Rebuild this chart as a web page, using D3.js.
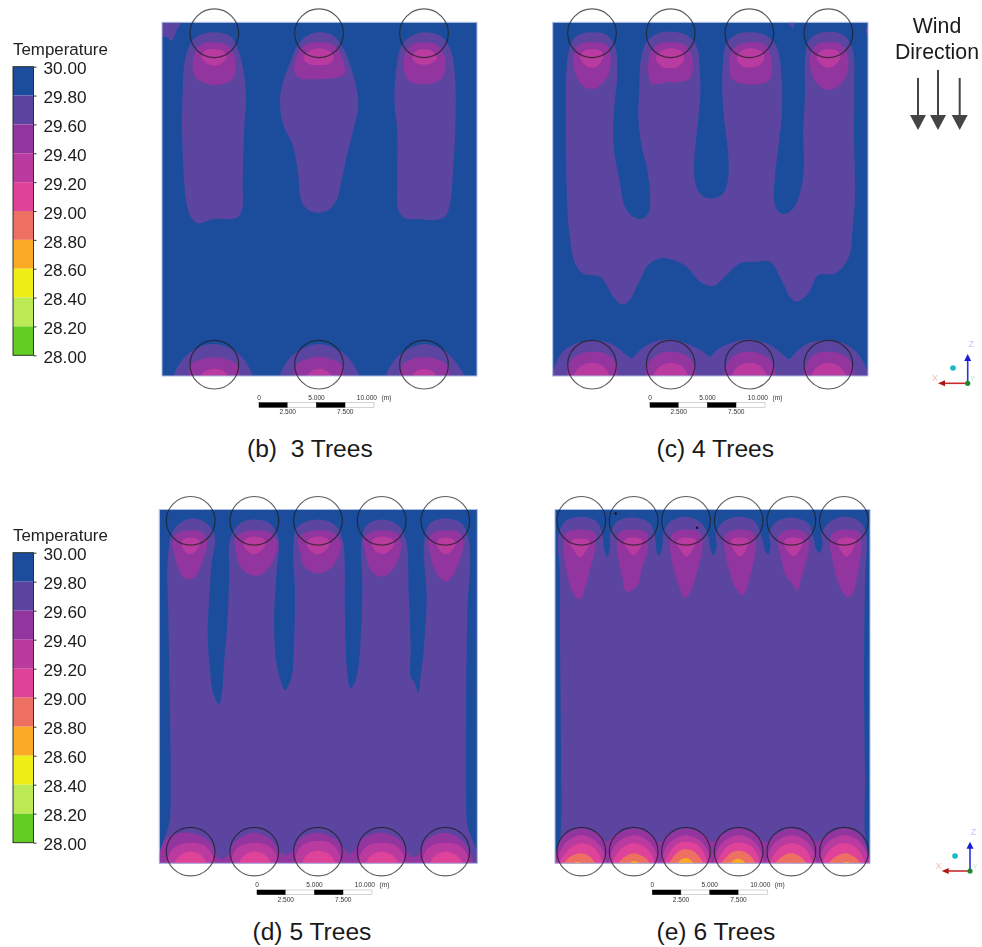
<!DOCTYPE html>
<html><head><meta charset="utf-8">
<script src="https://cdn.jsdelivr.net/npm/d3@7"></script>
<style>html,body{margin:0;padding:0;background:#fff}svg{display:block}text{font-family:"Liberation Sans",Arial,sans-serif}</style>
</head><body><svg id="c" width="982" height="947"></svg>
<script>
// ---------- colour key ----------
const tempTicks = [30,29.8,29.6,29.4,29.2,29,28.8,28.6,28.4,28.2,28];
const bandEdges = [28.2,28.4,28.6,28.8,29,29.2,29.4,29.6,29.8];
const bandColors = ["#63cd20","#bbea55","#efee14","#fbaa26","#ee6f63","#df4299","#b93a9f","#93369f","#5b45a0","#1c4e9c"];
const scaleBarTicks = [0,2.5,5,7.5,10];

// ---------- tree positions (model-grid units) ----------
const treesB = [643,957,1272];
const treesC = [276,512,748,985];
const treesD = [572,763,954,1145,1336];
const treesE = [244,401,558,716,874,1032];

// ---------- contour bands, panel (b) ----------
const b297 = [
 [[486,60],[545,60],[530,90],[515,122],[500,112],[486,110],[480,90]],
 [[643,97],[690,108],[715,150],[730,210],[738,290],[733,380],[730,470],[728,560],[728,620],[715,650],[690,657],[640,657],[595,670],[572,650],[558,600],[550,500],[546,380],[548,280],[555,180],[575,125],[605,103]],
 [[957,97],[1000,107],[1030,145],[1055,210],[1072,280],[1074,330],[1060,390],[1040,470],[1025,540],[1010,600],[985,630],[955,638],[925,630],[905,605],[895,530],[880,440],[850,375],[840,310],[848,250],[870,190],[890,140],[920,108]],
 [[1272,97],[1320,107],[1350,145],[1365,230],[1366,380],[1360,500],[1350,610],[1335,650],[1300,660],[1260,657],[1215,655],[1195,630],[1192,550],[1192,400],[1183,295],[1190,200],[1205,135],[1240,105]],
 [[522,1140],[540,1090],[580,1050],[643,1032],[700,1050],[740,1090],[755,1140]],
 [[843,1140],[860,1085],[900,1050],[957,1032],[1015,1050],[1055,1085],[1075,1140]],
 [[1160,1140],[1180,1085],[1220,1050],[1272,1032],[1330,1050],[1370,1090],[1392,1140]]
];
const b295 = [
 [[643,127],[680,135],[700,160],[707,200],[695,240],[640,255],[590,235],[578,195],[590,145],[610,130]],
 [[957,127],[1000,135],[1025,170],[1033,222],[1000,235],[957,237],[900,235],[883,215],[890,170],[915,135]],
 [[1272,127],[1310,135],[1335,170],[1335,215],[1318,242],[1272,252],[1230,245],[1213,215],[1213,170],[1235,135]],
 [[572,1140],[572,1095],[605,1078],[643,1072],[680,1078],[712,1095],[715,1140]],
 [[885,1140],[890,1095],[920,1078],[957,1070],[995,1078],[1025,1095],[1030,1140]],
 [[1203,1140],[1207,1095],[1235,1078],[1272,1072],[1310,1078],[1340,1095],[1345,1140]]
];
const b293 = [
 [[643,147],[672,155],[680,170],[665,190],[643,197],[620,190],[605,170],[613,153]],
 [[957,145],[990,155],[1002,175],[985,192],[957,195],[925,192],[910,175],[925,155]],
 [[1272,147],[1300,155],[1310,175],[1295,190],[1272,195],[1250,190],[1237,175],[1245,155]],
 [[598,1140],[606,1122],[622,1110],[643,1106],[665,1110],[680,1122],[690,1140]],
 [[918,1140],[926,1122],[940,1110],[957,1106],[975,1110],[990,1122],[1000,1140]],
 [[1235,1140],[1240,1122],[1255,1110],[1272,1106],[1290,1110],[1305,1122],[1312,1140]]
];

// ---------- contour bands, panel (c) ----------
const c297 = [
 [[276,97],[320,105],[345,140],[352,220],[345,300],[340,380],[342,450],[358,540],[375,620],[400,650],[425,657],[445,640],[450,590],[440,500],[425,440],[415,350],[418,270],[422,180],[440,125],[470,102],[512,95],[560,105],[590,140],[600,220],[600,300],[590,400],[582,510],[590,565],[610,590],[635,595],[665,585],[682,550],[685,470],[675,380],[668,300],[668,200],[680,130],[710,103],[748,97],[795,105],[830,140],[845,240],[845,350],[835,440],[825,530],[822,600],[835,635],[855,642],[880,625],[900,580],[912,500],[910,400],[915,280],[915,180],[925,125],[950,103],[985,95],[1030,105],[1058,150],[1063,250],[1062,400],[1065,590],[1058,680],[1050,760],[1030,800],[1000,822],[955,825],[925,880],[890,905],[870,890],[840,830],[810,785],[770,785],[720,790],[680,825],[640,858],[600,845],[560,800],[520,780],[480,775],[445,795],[415,850],[385,905],[365,913],[340,890],[300,830],[250,822],[225,790],[208,700],[200,560],[198,350],[200,200],[215,125],[240,103]],
 [[160,1140],[170,1085],[200,1045],[276,1020],[340,1035],[378,1065],[395,1075],[410,1060],[450,1030],[512,1018],[570,1035],[610,1055],[630,1070],[650,1050],[690,1030],[748,1018],[810,1035],[850,1065],[868,1077],[885,1060],[925,1030],[985,1020],[1050,1040],[1090,1085],[1102,1140]],
 [[865,60],[880,60],[880,84],[870,76]],
 [[1110,72],[1097,92],[1110,112]]
];
const c295 = [
 [[276,127],[320,135],[332,175],[325,225],[295,260],[275,267],[250,258],[228,225],[220,180],[235,135]],
 [[512,127],[555,135],[577,175],[570,235],[530,247],[505,247],[455,250],[445,215],[448,170],[470,135]],
 [[748,127],[795,135],[815,180],[808,240],[780,252],[720,250],[695,235],[688,190],[700,145]],
 [[985,127],[1025,135],[1045,180],[1035,235],[1010,262],[985,270],[955,255],[935,220],[930,170],[948,135]],
 [[205,1140],[210,1085],[240,1062],[276,1055],[320,1062],[345,1085],[350,1140]],
 [[440,1140],[445,1090],[475,1062],[512,1055],[555,1065],[580,1090],[585,1140]],
 [[677,1140],[682,1090],[710,1062],[748,1055],[790,1065],[818,1090],[822,1140]],
 [[915,1140],[920,1090],[945,1062],[985,1055],[1030,1065],[1055,1090],[1058,1140]]
];
const c293 = [
 [[276,147],[305,155],[310,170],[295,195],[276,203],[255,195],[240,170],[248,155]],
 [[512,145],[545,155],[553,175],[535,200],[512,205],[485,200],[468,175],[480,155]],
 [[748,145],[785,155],[793,175],[775,198],[748,203],[725,198],[710,175],[720,155]],
 [[985,147],[1015,155],[1022,170],[1005,195],[985,203],[965,195],[950,170],[960,155]],
 [[222,1140],[230,1110],[250,1094],[276,1088],[302,1094],[320,1110],[330,1140]],
 [[460,1140],[468,1110],[488,1094],[512,1088],[538,1094],[556,1110],[565,1140]],
 [[697,1140],[704,1110],[724,1094],[748,1088],[774,1094],[792,1110],[800,1140]],
 [[935,1140],[942,1110],[962,1094],[985,1088],[1010,1094],[1030,1110],[1038,1140]]
];

// ---------- contour bands, panel (d) ----------
const d297 = [
 [[572,115],[620,130],[645,170],[635,250],[628,350],[623,460],[630,570],[640,640],[657,673],[667,630],[672,550],[682,430],[688,280],[690,180],[720,130],[763,118],[810,130],[835,175],[828,300],[822,430],[830,550],[845,610],[855,630],[875,590],[882,500],[885,330],[880,200],[893,140],[954,118],[1005,135],[1028,180],[1035,400],[1040,560],[1052,625],[1070,590],[1082,480],[1087,320],[1085,180],[1100,135],[1145,118],[1195,135],[1218,180],[1226,340],[1232,500],[1232,590],[1245,610],[1255,640],[1262,590],[1272,500],[1280,350],[1272,190],[1290,130],[1336,115],[1385,130],[1408,190],[1402,400],[1398,700],[1398,950],[1403,1040],[1420,1085],[1436,1130],[1436,1160],[474,1160],[474,1130],[490,1085],[508,1030],[512,900],[510,700],[505,400],[503,250],[520,150]]
];
const d295 = [
 [[572,150],[610,158],[622,190],[605,250],[585,290],[565,298],[545,285],[525,230],[518,180],[535,158]],
 [[763,150],[810,158],[832,190],[815,250],[785,283],[755,285],[725,265],[708,210],[705,175],[725,158]],
 [[954,150],[1000,158],[1023,190],[1005,250],[975,275],[945,278],[915,260],[900,210],[895,175],[915,158]],
 [[1145,150],[1190,158],[1203,190],[1190,250],[1160,285],[1135,288],[1110,265],[1095,210],[1090,175],[1110,158]],
 [[1336,150],[1380,158],[1390,190],[1375,250],[1350,298],[1335,303],[1310,280],[1290,220],[1285,180],[1300,158]],
 [[478,1160],[485,1100],[510,1070],[572,1058],[630,1085],[650,1125],[665,1137],[685,1125],[700,1090],[763,1058],[815,1080],[840,1115],[858,1125],[880,1110],[900,1075],[954,1058],[1010,1080],[1035,1110],[1048,1122],[1065,1110],[1090,1075],[1145,1058],[1200,1080],[1225,1120],[1240,1132],[1258,1120],[1280,1080],[1336,1058],[1390,1085],[1415,1130],[1420,1160]]
];
const d293 = [
 [[572,172],[595,178],[600,190],[585,215],[572,222],[555,215],[545,190],[550,178]],
 [[763,170],[790,176],[798,190],[780,215],[763,222],[745,215],[730,190],[738,176]],
 [[954,170],[982,176],[990,190],[972,215],[954,222],[935,215],[920,190],[928,176]],
 [[1148,170],[1175,176],[1183,190],[1165,215],[1148,222],[1130,215],[1115,190],[1122,176]],
 [[1338,172],[1362,178],[1368,190],[1352,215],[1338,222],[1322,215],[1310,190],[1316,178]],
 [[505,1160],[512,1115],[535,1095],[572,1088],[610,1095],[635,1120],[640,1160]],
 [[696,1160],[703,1115],[726,1095],[763,1088],[801,1095],[826,1120],[831,1160]],
 [[887,1160],[894,1112],[917,1090],[954,1082],[992,1090],[1017,1120],[1022,1160]],
 [[1078,1160],[1085,1115],[1108,1095],[1145,1088],[1183,1095],[1208,1120],[1213,1160]],
 [[1269,1160],[1276,1115],[1299,1095],[1336,1088],[1374,1095],[1399,1120],[1404,1160]]
];
const d291 = [
 [[525,1160],[532,1135],[550,1120],[572,1115],[595,1120],[612,1135],[620,1160]],
 [[718,1160],[725,1135],[743,1120],[765,1115],[788,1120],[805,1135],[812,1160]],
 [[908,1160],[915,1132],[933,1117],[954,1112],[977,1117],[997,1132],[1005,1160]],
 [[1098,1160],[1105,1135],[1123,1120],[1145,1115],[1168,1120],[1187,1135],[1195,1160]],
 [[1292,1160],[1298,1135],[1316,1120],[1338,1115],[1360,1120],[1378,1135],[1385,1160]]
];

// ---------- contour bands, panel (e) ----------
const e297 = [
 [[244,110],[290,125],[308,165],[312,205],[322,228],[330,200],[330,165],[350,125],[401,112],[450,130],[465,170],[470,215],[477,228],[487,200],[490,160],[510,125],[558,110],[605,130],[625,170],[632,210],[640,225],[650,200],[648,160],[670,125],[716,110],[765,125],[785,170],[795,210],[805,222],[812,195],[808,160],[830,125],[874,112],[925,130],[940,170],[950,210],[960,218],[968,190],[965,160],[990,125],[1032,110],[1080,125],[1098,160],[1095,300],[1092,600],[1095,900],[1095,1060],[1108,1130],[1115,1160],[160,1160],[170,1130],[182,1060],[183,800],[180,450],[180,280],[175,170],[195,125]]
];
const e295 = [
 [[244,148],[285,158],[288,190],[270,270],[245,350],[235,358],[215,330],[200,270],[190,190],[198,158]],
 [[401,148],[440,158],[445,190],[425,270],[410,320],[380,335],[365,280],[350,190],[358,158]],
 [[558,148],[600,158],[608,190],[590,280],[565,345],[553,352],[535,310],[515,240],[510,180],[520,158]],
 [[716,148],[760,158],[768,190],[750,290],[730,345],[710,330],[685,260],[672,180],[680,158]],
 [[874,148],[915,158],[927,190],[905,290],[890,333],[880,315],[860,290],[838,210],[832,175],[845,158]],
 [[1032,148],[1080,158],[1085,190],[1075,270],[1055,345],[1040,350],[1020,320],[1000,250],[990,180],[1000,158]],
 [[165,1165],[170,1110],[195,1065],[244,1045],[295,1062],[322,1085],[345,1065],[401,1045],[450,1062],[478,1087],[505,1065],[558,1045],[610,1062],[637,1085],[665,1065],[716,1045],[765,1062],[795,1087],[825,1065],[874,1045],[925,1062],[952,1085],[980,1065],[1032,1045],[1080,1065],[1100,1110],[1106,1165]]
];
const e293 = [
 [[238,175],[268,182],[262,205],[240,232],[225,215],[210,188],[218,178]],
 [[400,172],[428,180],[422,200],[402,225],[385,210],[372,186],[380,176]],
 [[558,172],[588,180],[580,205],[560,230],[545,215],[530,186],[538,176]],
 [[718,172],[748,180],[740,205],[720,230],[705,215],[692,186],[698,176]],
 [[880,172],[908,180],[902,205],[882,228],[865,215],[852,186],[860,176]],
 [[1040,172],[1068,180],[1060,205],[1040,230],[1025,215],[1012,186],[1020,176]],
 [[172,1160],[185,1105],[210,1078],[244,1066],[280,1078],[308,1110],[315,1160]],
 [[330,1160],[340,1105],[365,1078],[401,1066],[438,1078],[465,1110],[472,1160]],
 [[487,1160],[497,1105],[522,1078],[558,1066],[595,1078],[622,1110],[630,1160]],
 [[645,1160],[655,1105],[680,1078],[716,1066],[753,1078],[780,1110],[788,1160]],
 [[803,1160],[813,1105],[838,1078],[874,1066],[911,1078],[938,1110],[946,1160]],
 [[961,1160],[971,1105],[996,1078],[1032,1066],[1069,1078],[1096,1110],[1104,1160]]
];
const e291 = [
 [[178,1160],[200,1115],[225,1095],[244,1090],[275,1098],[298,1125],[305,1160]],
 [[338,1160],[355,1115],[380,1095],[401,1090],[430,1098],[455,1125],[462,1160]],
 [[495,1160],[512,1112],[535,1090],[558,1085],[590,1092],[612,1120],[620,1160]],
 [[652,1160],[670,1112],[695,1092],[716,1087],[748,1095],[770,1120],[778,1160]],
 [[810,1160],[828,1115],[852,1095],[874,1090],[905,1098],[928,1125],[935,1160]],
 [[968,1160],[985,1115],[1010,1095],[1032,1090],[1062,1098],[1085,1125],[1092,1160]]
];
const e289 = [
 [[192,1155],[205,1135],[222,1124],[240,1120],[258,1123],[275,1135],[285,1155]],
 [[355,1155],[368,1135],[385,1124],[401,1120],[418,1124],[438,1135],[448,1155]],
 [[508,1155],[522,1128],[540,1112],[558,1108],[578,1112],[598,1130],[608,1155]],
 [[665,1155],[680,1130],[698,1116],[716,1112],[735,1116],[755,1132],[765,1155]],
 [[825,1155],[840,1135],[856,1124],[872,1120],[890,1124],[908,1136],[920,1155]],
 [[985,1155],[1000,1135],[1018,1124],[1035,1120],[1052,1124],[1070,1136],[1080,1155]]
];
const e287 = [
 [[215,1160],[222,1150],[232,1146],[242,1150],[250,1160]],
 [[385,1160],[392,1147],[403,1142],[414,1147],[422,1160]],
 [[530,1160],[542,1140],[558,1134],[572,1140],[585,1160]],
 [[690,1160],[700,1141],[714,1136],[728,1141],[738,1160]],
 [[858,1160],[863,1151],[870,1148],[878,1151],[885,1160]],
 [[1022,1160],[1030,1150],[1040,1146],[1050,1150],[1058,1160]]
];
const eSpecks = [[347,100],[591,143]];

// ---------- captions ----------
const captions = ["(b)  3 Trees","(c) 4 Trees","(d) 5 Trees","(e) 6 Trees"];
const windLabel = ["Wind","Direction"];
const windArrowTops = [78,70,78];
const windArrowX = [918,938,959.7];

const panels = [
 {id:"b",cap:captions[0],trees:treesB,dx:[486,1431],dy:[67,1128],rows:[100,1094],
  bands:[[29.7,b297],[29.5,b295],[29.3,b293]],rx:[162,477],ry:[22.3,376],capX:247,capY:457,bar:259,barY:402.7},
 {id:"c",cap:captions[1],trees:treesC,dx:[158,1104],dy:[67,1128],rows:[100,1094],
  bands:[[29.7,c297],[29.5,c295],[29.3,c293]],rx:[552.7,868],ry:[22.3,376],capX:656.5,capY:457,bar:650,barY:402.7},
 {id:"d",cap:captions[2],trees:treesD,dx:[478,1432],dy:[88,1150],rows:[122,1115],
  bands:[[29.7,d297],[29.5,d295],[29.3,d293],[29.1,d291]],rx:[159.3,477.3],ry:[509.5,863.3],capX:252.5,capY:940,bar:257,barY:890},
 {id:"e",cap:captions[3],trees:treesE,dx:[165,1110],dy:[88,1150],rows:[122,1115],
  bands:[[29.7,e297],[29.5,e295],[29.3,e293],[29.1,e291],[28.9,e289],[28.7,e287]],rx:[555,870],ry:[509.5,863.3],capX:656.5,capY:940,bar:652.3,barY:890,specks:eSpecks}
];

const color = d3.scaleThreshold().domain(bandEdges).range(bandColors);
const svg = d3.select("#c");
const defs = svg.append("defs");
defs.append("filter").attr("id","soft").attr("x","-5%").attr("y","-5%").attr("width","110%").attr("height","110%")
  .append("feGaussianBlur").attr("stdDeviation",0.6);
defs.append("filter").attr("id","softer").attr("x","-5%").attr("y","-5%").attr("width","110%").attr("height","110%")
  .append("feGaussianBlur").attr("stdDeviation",0.4);

// panels
panels.forEach(p=>{
  const x = d3.scaleLinear().domain(p.dx).range(p.rx);
  const y = d3.scaleLinear().domain(p.dy).range(p.ry);
  const line = d3.line().x(d=>x(d[0])).y(d=>y(d[1])).curve(d3.curveCatmullRomClosed.alpha(0.5));
  const W = p.rx[1]-p.rx[0], H = p.ry[1]-p.ry[0];
  defs.append("clipPath").attr("id","clip-"+p.id).append("rect")
    .attr("x",p.rx[0]).attr("y",p.ry[0]).attr("width",W).attr("height",H);
  const g = svg.append("g").attr("filter","url(#soft)");
  const f = g.append("g").attr("clip-path","url(#clip-"+p.id+")");
  f.append("rect").attr("x",p.rx[0]).attr("y",p.ry[0]).attr("width",W).attr("height",H).attr("fill",color(29.9));
  p.bands.forEach(([t,shapes])=>{
    f.selectAll(null).data(shapes).join("path").attr("d",line).attr("fill",color(t));
  });
  if(p.specks) f.selectAll(null).data(p.specks).join("circle")
    .attr("cx",d=>x(d[0])).attr("cy",d=>y(d[1])).attr("r",1.3).attr("fill","#1a1030");
  g.append("rect").attr("x",p.rx[0]).attr("y",p.ry[0]).attr("width",W).attr("height",H)
    .attr("fill","none").attr("stroke","#a9bce4").attr("stroke-width",1);
  const pts = d3.cross(p.rows,p.trees,(r,t)=>({r,t}));
  const cr = x(p.dx[0]+73)-x(p.dx[0]);
  svg.append("g").attr("filter","url(#softer)").selectAll("circle").data(pts).join("circle")
    .attr("cx",d=>x(d.t)).attr("cy",d=>y(d.r)).attr("r",cr)
    .attr("fill","none").attr("stroke","#1f1f24").attr("stroke-opacity",0.72).attr("stroke-width",1.2);

  // scale bar
  const m = d3.scaleLinear().domain([0,10]).range([p.bar,p.bar+115]);
  const sb = svg.append("g").attr("filter","url(#softer)");
  const segs = d3.pairs(scaleBarTicks);
  sb.selectAll("rect").data(segs).join("rect")
    .attr("x",d=>m(d[0])).attr("y",p.barY).attr("width",d=>m(d[1])-m(d[0])).attr("height",4.6)
    .attr("fill",(d,i)=>i%2?"#fff":"#000").attr("stroke",(d,i)=>i%2?"#aaa":"#000").attr("stroke-width",.5);
  sb.selectAll("text").data(scaleBarTicks).join("text")
    .attr("x",(d,i)=>i===4?m(d)+3:m(d))
    .attr("y",(d,i)=>i%2?p.barY+11.5:p.barY-3.2)
    .attr("text-anchor",(d,i)=>i===4?"end":"middle")
    .attr("font-size",6.6).attr("fill","#333")
    .text(d=>d===0?"0":d3.format(".3f")(d));
  sb.append("text").attr("x",m(10)+7.5).attr("y",p.barY-3.2).attr("font-size",6.6).attr("fill","#333").text("(m)");

  svg.append("text").attr("x",p.capX).attr("y",p.capY).attr("font-size",24.6).attr("fill","#1a1a1a")
    .attr("xml:space","preserve").style("white-space","pre").text(p.cap);
});

// legends
[{top:66.7,bot:355.3,titleY:54.5},{top:552.7,bot:842.7,titleY:541}].forEach(l=>{
  const s = d3.scaleLinear().domain([28,30]).range([l.bot,l.top]);
  const g = svg.append("g").attr("filter","url(#softer)");
  g.append("text").attr("x",13).attr("y",l.titleY).attr("font-size",16.9).attr("fill","#222").text("Temperature");
  const steps = d3.pairs(tempTicks);
  g.selectAll("rect").data(steps).join("rect")
    .attr("x",13).attr("width",20.5)
    .attr("y",d=>s(d[0])).attr("height",d=>s(d[1])-s(d[0]))
    .attr("fill",d=>color((d[0]+d[1])/2));
  g.append("rect").attr("x",13).attr("y",l.top).attr("width",20.5).attr("height",l.bot-l.top)
    .attr("fill","none").attr("stroke","#222").attr("stroke-width",.9);
  const ax = g.append("g").attr("transform","translate(33.5,0)")
    .call(d3.axisRight(s).tickValues(tempTicks).tickFormat(d3.format(".2f")).tickSize(3).tickPadding(7));
  ax.select(".domain").remove();
  ax.selectAll("text").attr("font-size",17.2).attr("fill","#1a1a1a").attr("dy","0.42em").attr("font-family","Liberation Sans, Arial, sans-serif");
  ax.selectAll("line").attr("stroke","#333");
});

// wind direction
const windG = svg.append("g").attr("filter","url(#softer)");
windG.selectAll("text").data(windLabel).join("text").attr("x",937).attr("y",(d,i)=>33+i*26)
  .attr("text-anchor","middle").attr("font-size",21.3).attr("fill","#1a1a1a").text(d=>d);
windArrowX.forEach((cx,i)=>{
  windG.append("line").attr("x1",cx).attr("x2",cx).attr("y1",windArrowTops[i]).attr("y2",116).attr("stroke","#444").attr("stroke-width",2);
  windG.append("path").attr("d",`M${cx-8},115L${cx+8},115L${cx},130Z`).attr("fill","#444");
});

// orientation triads
[{ox:967.7,oy:383.3,zy:354,xx:938,cx:953,cy:368},{ox:970,oy:871,zy:841.7,xx:941.7,cx:955,cy:856}].forEach(t=>{
  const g = svg.append("g").attr("filter","url(#softer)");
  g.append("line").attr("x1",t.ox).attr("x2",t.ox).attr("y1",t.oy).attr("y2",t.zy+6).attr("stroke","#2a35d8").attr("stroke-width",1.6);
  g.append("path").attr("d",`M${t.ox-3.5},${t.zy+7}L${t.ox+3.5},${t.zy+7}L${t.ox},${t.zy}Z`).attr("fill","#1a1ad8");
  g.append("line").attr("x1",t.ox).attr("x2",t.xx+6).attr("y1",t.oy).attr("y2",t.oy).attr("stroke","#c92a2a").attr("stroke-width",1.6);
  g.append("path").attr("d",`M${t.xx+7},${t.oy-3}L${t.xx+7},${t.oy+3}L${t.xx},${t.oy}Z`).attr("fill","#b01818");
  g.append("circle").attr("cx",t.ox).attr("cy",t.oy).attr("r",2.6).attr("fill","#1c8a2a");
  g.append("circle").attr("cx",t.cx).attr("cy",t.cy).attr("r",2.8).attr("fill","#17b9c4");
  g.append("text").attr("x",t.ox+3.5).attr("y",t.zy-7).attr("text-anchor","middle").attr("font-size",9).attr("fill","#c4c8f5").text("Z");
  g.append("text").attr("x",t.xx-3).attr("y",t.oy-2).attr("text-anchor","middle").attr("font-size",9).attr("fill","#f5bcbc").text("X");
  g.append("text").attr("x",t.ox+5).attr("y",t.oy-2).attr("text-anchor","middle").attr("font-size",7).attr("fill","#bfe6c2").text("Y");
});
</script></body></html>
